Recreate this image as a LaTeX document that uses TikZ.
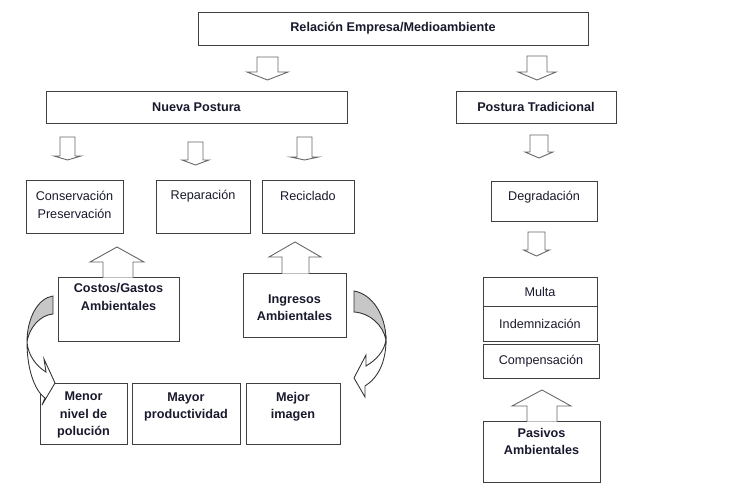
\documentclass[tikz,border=0pt]{standalone}
\usepackage{fontspec}
\setmainfont{Liberation Sans}
\usetikzlibrary{positioning}
\definecolor{ink}{RGB}{25,25,45}
\tikzset{box/.style = {draw=black!75, line width=0.5pt, inner sep=0, outer sep=0, font=\fontsize{7.2}{9.9}\selectfont, text=ink}}
\tikzset{lbl/.style = {inner sep=0, align=center, text=ink, font=\fontsize{7.2}{9.9}\selectfont}}
\tikzset{blbl/.style = {lbl, font=\fontsize{7.2}{9.9}\selectfont\bfseries}}
\tikzset{hollow/.style = {draw=black!60, fill=white, line width=0.5pt}}
\tikzset{curl/.style = {draw=black!80, line width=0.5pt}}
\tikzset{pics/dnarrow/.style args={#1/#2/#3/#4}{code={
  \path[hollow] (-#1/2,0) -- (#1/2,0) -- (#1/2,#3) -- (#2/2,#3) -- (0,#4) -- (-#2/2,#3) -- (-#1/2,#3) -- cycle;}}}

\begin{document}
\begin{tikzpicture}[x=0.02cm, y=-0.02cm]
    \useasboundingbox (0,0) rectangle (731,486);
    % top levels
    \node [box, minimum width=7.8cm, minimum height=0.66cm] (rel) at (393,28.5) {\bfseries Relación Empresa/Medioambiente};
    \node [box, minimum width=6.02cm, minimum height=0.64cm] (nueva) at (196.5,107) {\bfseries Nueva Postura};
    \node [box, minimum width=3.2cm, minimum height=0.64cm] (trad) at (536,107) {\bfseries Postura Tradicional};
    \pic at (267.5,57) {dnarrow={21/41/15/23}};
    \pic at (537,56) {dnarrow={20/38/16/24}};
    \pic at (67.5,137) {dnarrow={15/27/19/23}};
    \pic at (195.5,142) {dnarrow={15/27/18/23}};
    \pic at (304.5,137) {dnarrow={15/28/20/23}};
    \pic at (539,135) {dnarrow={18/28/17/23}};
    \pic at (536.5,232) {dnarrow={17/26/18/24}};

    % nueva postura
    \node [box, minimum width=1.94cm, minimum height=1.06cm] (cons) at (74.5,206.5) {};
    \node [box, minimum width=1.88cm, minimum height=1.06cm] (repa) at (203,206.5) {};
    \node [box, minimum width=1.84cm, minimum height=1.06cm] (reci) at (308,206.5) {};
    \node [lbl] (cons-t) at (74.5,205) {Conservación\\Preservación};
    \node [lbl] (repa-t) at (203,196) {Reparación};
    \node [lbl] (reci-t) at (308,196) {Reciclado};

    \node [box, minimum width=2.42cm, minimum height=1.28cm] (costos) at (118.5,309) {};
    \path [hollow] (103,277.6) -- (103,262) -- (90,262) -- (117,247) -- (144,262) -- (133,262) -- (133,277.6);
    \node [blbl] (costos-t) at (118.5,297) {Costos/Gastos\\Ambientales};
    \node [box, minimum width=2.06cm, minimum height=1.28cm] (ingresos) at (294.5,305) {};
    \path [hollow] (282,273.6) -- (282,257) -- (269,257) -- (295,242) -- (321,257) -- (309,257) -- (309,273.6);
    \node [blbl] (ingresos-t) at (294.5,308) {Ingresos\\Ambientales};

    \node [box, minimum width=1.74cm, minimum height=1.22cm] (menor) at (83.5,413.5) {};
    \node [box, minimum width=2.16cm, minimum height=1.22cm] (mayor) at (186,413.5) {};
    \node [box, minimum width=1.88cm, minimum height=1.22cm] (mejor) at (293,413.5) {};
    \node [blbl] (menor-t) at (83.5,415) {Menor\\nivel de\\polución};
    \node [blbl] (mayor-t) at (186,407) {Mayor\\productividad};
    \node [blbl] (mejor-t) at (293,407) {Mejor\\imagen};

    % curved arrows
    \filldraw [curl, fill=black!22] (53,296) .. controls (38,298) and (27,318) .. (27,342) .. controls (29,328) and (40,315) .. (53,314) -- cycle;
    \filldraw [curl, fill=white] (27,342) .. controls (27,368) and (34,390) .. (45,398) -- (42,405) -- (55,383) -- (44,359) -- (46,372) .. controls (36,366) and (28,355) .. (27,342) -- cycle;
    \filldraw [curl, fill=black!22] (354,291) .. controls (372,294) and (386,315) .. (386,340) .. controls (383,325) and (370,313) .. (354,312) -- cycle;
    \filldraw [curl, fill=white] (386,340) .. controls (386,362) and (378,378) .. (365,386) -- (365,397) -- (354,378) -- (366,355) -- (366,366) .. controls (376,360) and (384,352) .. (386,340) -- cycle;

    % postura tradicional
    \node [box, minimum width=2.12cm, minimum height=0.8cm] (degr) at (544,201) {};
    \node [lbl] (degr-t) at (544,197) {Degradación};
    \node [box, minimum width=2.28cm, minimum height=0.58cm] (multa) at (540,291.5) {Multa};
    \node [box, minimum width=2.28cm, minimum height=0.7cm] (indem) at (540,323.5) {Indemnización};
    \node [box, minimum width=2.32cm, minimum height=0.68cm] (comp) at (541,361) {Compensación};
    \node [box, minimum width=2.34cm, minimum height=1.22cm] (pasivos) at (541.5,451.5) {};
    \path [hollow] (527,421.6) -- (527,406) -- (512,406) -- (542,390) -- (571,406) -- (557,406) -- (557,421.6);
    \node [blbl] (pasivos-t) at (541.5,441.5) {Pasivos\\Ambientales};
\end{tikzpicture}
\end{document}
